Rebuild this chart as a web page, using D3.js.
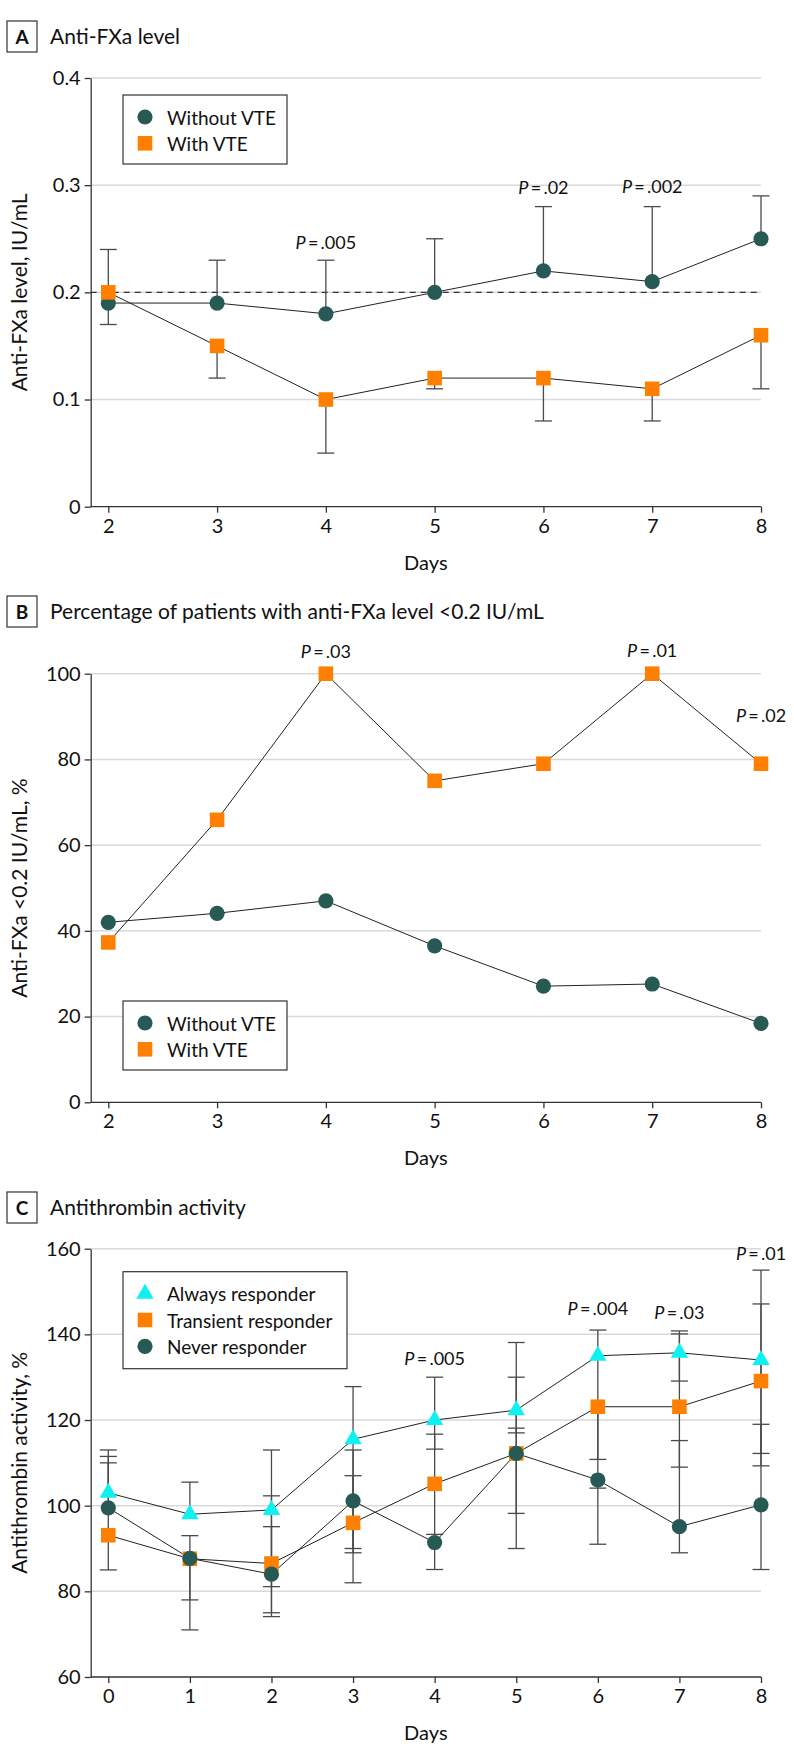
<!DOCTYPE html>
<html>
<head>
<meta charset="utf-8">
<script src="https://d3js.org/d3.v7.min.js"></script>
<style>
  body { margin: 0; background: #fff; }
  svg text { font-family: Lato, "Open Sans", sans-serif; fill: #111; }
</style>
</head>
<body>
<svg id="chart" width="794" height="1763"></svg>
<script>
// ---- panel A: anti-FXa level ----
const daysAB = [2, 3, 4, 5, 6, 7, 8];
const levelTicks = [0, 0.1, 0.2, 0.3, 0.4];
const levelWithout = [0.19, 0.19, 0.18, 0.20, 0.22, 0.21, 0.25];
const levelWithoutHi = [0.24, 0.23, 0.23, 0.25, 0.28, 0.28, 0.29];
const levelWith = [0.20, 0.15, 0.10, 0.12, 0.12, 0.11, 0.16];
const levelWithLo = [0.17, 0.12, 0.05, 0.11, 0.08, 0.08, 0.11];
const pLevel = [[4, 0.247, ".005"], [6, 0.298, ".02"], [7, 0.299, ".002"]];

// ---- panel B: % below 0.2 IU/mL ----
const pctTicks = [0, 20, 40, 60, 80, 100];
const pctWithout = [42, 44.1, 47, 36.5, 27.1, 27.6, 18.4];
const pctWith = [37.3, 65.9, 100, 75, 79, 100, 79];
const pPct = [[4, 105.4, ".03"], [7, 105.5, ".01"], [8, 90.4, ".02"]];

// ---- panel C: antithrombin activity ----
const daysC = [0, 1, 2, 3, 4, 5, 6, 7, 8];
const atTicks = [60, 80, 100, 120, 140, 160];
const atAlways = [103, 98, 99, 115.5, 120, 122.3, 135, 135.7, 134];
const atAlwaysHi = [113, 105.5, 113, 127.8, 130, 130, 141, 140.8, 147.1];
const atAlwaysLo = [null, null, 81.1, 90, 113.2, 117, 110.8, 129.1, 112.2];
const atTransient = [93.1, 87.6, 86.5, 96, 105.1, 112.2, 123.1, 123.1, 129.1];
const atTransientHi = [111.5, 93, 102.3, 113, 116.7, 138.1, null, 140.1, 155];
const atTransientLo = [85, 78, 75, 82, 93.3, 98.2, 104.1, 109, 109.3];
const atNever = [99.5, 87.7, 84, 101.1, 91.4, 112.2, 106, 95.1, 100.2];
const atNeverHi = [110, null, 95.1, 107, null, 118.1, null, 115.2, 119];
const atNeverLo = [null, 71, 74.1, 89, 85.1, 90, 91, 89, 85.1];
const pAt = [[4, 134.4, ".005"], [6, 146.1, ".004"], [7, 145.2, ".03"], [8, 159.1, ".01"]];

const TEAL = "#275a55", ORANGE = "#ff8000", CYAN = "#0ff0f0";
const svg = d3.select("#chart");
const axisX = 90.7, plotRight = 761, firstX = 108.3;

function marker(g, shape, color, x, y) {
  if (shape === "circle") {
    g.append("circle").attr("cx", x).attr("cy", y).attr("r", 7.6).attr("fill", color);
  } else if (shape === "square") {
    g.append("rect").attr("x", x - 7.3).attr("y", y - 7.3).attr("width", 14.6).attr("height", 14.6).attr("fill", color);
  } else {
    g.append("path").attr("d", d3.symbol(d3.symbolTriangle, 130)())
      .attr("transform", `translate(${x},${y})`).attr("fill", color);
  }
}

function drawPanel(cfg) {
  const g = svg.append("g");
  const x = d3.scaleLinear().domain(d3.extent(cfg.days)).range([firstX, plotRight]);
  const y = d3.scaleLinear().domain(d3.extent(cfg.ticks)).range([cfg.bottom, cfg.top]);

  // header
  g.append("rect").attr("x", 7).attr("y", cfg.headY).attr("width", 30).attr("height", 31)
    .attr("fill", "none").attr("stroke", "#333").attr("stroke-width", 1.2);
  g.append("text").attr("x", 22).attr("y", cfg.headY + 23).attr("text-anchor", "middle")
    .style("font-weight", 700).style("font-size", "19px").text(cfg.letter);
  g.append("text").attr("x", 50).attr("y", cfg.headY + 23).style("font-size", "21px").text(cfg.title);

  // grid
  g.selectAll(".grid").data(cfg.ticks.slice(1)).enter().append("line")
    .attr("x1", axisX).attr("x2", plotRight)
    .attr("y1", d => y(d)).attr("y2", d => y(d))
    .attr("stroke", "#d9d9d9").attr("stroke-width", 1.5);

  if (cfg.refLine !== undefined) {
    g.append("line").attr("x1", axisX).attr("x2", plotRight)
      .attr("y1", y(cfg.refLine)).attr("y2", y(cfg.refLine))
      .attr("stroke", "#333").attr("stroke-width", 1.1).attr("stroke-dasharray", "6,5");
  }

  // axes
  const ya = g.append("g").attr("transform", `translate(${axisX},0)`)
    .call(d3.axisLeft(y).tickValues(cfg.ticks).tickFormat(cfg.fmt).tickSize(6).tickSizeOuter(0).tickPadding(4));
  ya.select(".domain").attr("stroke", "#333").attr("stroke-width", 1.3);
  ya.selectAll(".tick line").attr("stroke", "#333").attr("stroke-width", 1.3);
  ya.selectAll(".tick text").style("font-size", "20px").style("font-family", "Lato").attr("fill", "#111");

  const xa = g.append("g").attr("transform", `translate(0,${cfg.bottom})`)
    .call(d3.axisBottom(x).tickValues(cfg.days).tickFormat(d3.format("d")).tickSize(6).tickPadding(6));
  xa.select(".domain").remove();
  xa.selectAll(".tick line").attr("stroke", "#333").attr("stroke-width", 1.3);
  xa.selectAll(".tick text").style("font-size", "20px").style("font-family", "Lato").attr("fill", "#111");
  g.append("line").attr("x1", axisX).attr("x2", plotRight).attr("y1", cfg.bottom).attr("y2", cfg.bottom)
    .attr("stroke", "#333").attr("stroke-width", 1.3);

  g.append("text").attr("x", (axisX + plotRight) / 2).attr("y", cfg.bottom + 63)
    .attr("text-anchor", "middle").style("font-size", "20px").text("Days");
  g.append("text").attr("transform", `translate(27,${(cfg.top + cfg.bottom) / 2}) rotate(-90)`)
    .attr("text-anchor", "middle").style("font-size", "21px").text(cfg.yLabel);

  // error bars
  cfg.series.forEach(s => {
    s.values.forEach((v, i) => {
      const lo = s.lo ? s.lo[i] : null, hi = s.hi ? s.hi[i] : null;
      if (lo === null && hi === null) return;
      const cx = x(cfg.days[i]);
      g.append("line").attr("x1", cx).attr("x2", cx)
        .attr("y1", y(lo === null ? v : lo)).attr("y2", y(hi === null ? v : hi))
        .attr("stroke", "#4a4a4a").attr("stroke-width", 1.3);
      [lo, hi].filter(e => e !== null).forEach(e => {
        g.append("line").attr("x1", cx - 8.5).attr("x2", cx + 8.5).attr("y1", y(e)).attr("y2", y(e))
          .attr("stroke", "#4a4a4a").attr("stroke-width", 1.3);
      });
    });
  });

  // lines
  const line = d3.line().x((d, i) => x(cfg.days[i])).y(d => y(d));
  cfg.series.forEach(s => {
    g.append("path").attr("d", line(s.values)).attr("fill", "none").attr("stroke", "#222").attr("stroke-width", 1);
  });
  // markers
  cfg.series.forEach(s => {
    s.values.forEach((v, i) => marker(g, s.shape, s.color, x(cfg.days[i]), y(v)));
  });

  // P labels
  cfg.pvals.forEach(p => {
    const t = g.append("text").attr("x", x(p[0])).attr("y", y(p[1]))
      .attr("text-anchor", "middle").attr("dominant-baseline", "central").style("font-size", "18px");
    t.append("tspan").style("font-style", "italic").text("P");
    t.append("tspan").text("\u2009=\u2009" + p[2]);
  });

  // legend
  const lg = cfg.legend;
  g.append("rect").attr("x", 123).attr("y", lg.y).attr("width", lg.w).attr("height", lg.h)
    .attr("fill", "#fff").attr("stroke", "#333").attr("stroke-width", 1.2);
  lg.items.forEach((it, i) => {
    const yy = lg.y + 22 + i * 26.3;
    marker(g, it.shape, it.color, 145, yy);
    g.append("text").attr("x", 167).attr("y", yy).attr("dominant-baseline", "central")
      .style("font-size", "19px").text(it.name);
  });
}

drawPanel({
  letter: "A", title: "Anti-FXa level", headY: 21,
  days: daysAB, ticks: levelTicks, top: 78, bottom: 506.7,
  fmt: d => d === 0 ? "0" : d3.format(".1f")(d), refLine: 0.2,
  yLabel: "Anti-FXa level, IU/mL",
  series: [
    { shape: "circle", color: TEAL, values: levelWithout, hi: levelWithoutHi, lo: null },
    { shape: "square", color: ORANGE, values: levelWith, hi: null, lo: levelWithLo }
  ],
  pvals: pLevel,
  legend: { y: 95, w: 164, h: 69, items: [
    { shape: "circle", color: TEAL, name: "Without VTE" },
    { shape: "square", color: ORANGE, name: "With VTE" }] }
});

drawPanel({
  letter: "B", title: "Percentage of patients with anti-FXa level <0.2 IU/mL", headY: 596,
  days: daysAB, ticks: pctTicks, top: 673.7, bottom: 1102.3,
  fmt: d3.format("d"),
  yLabel: "Anti-FXa <0.2 IU/mL, %",
  series: [
    { shape: "square", color: ORANGE, values: pctWith, hi: null, lo: null },
    { shape: "circle", color: TEAL, values: pctWithout, hi: null, lo: null }
  ],
  pvals: pPct,
  legend: { y: 1001, w: 164, h: 69, items: [
    { shape: "circle", color: TEAL, name: "Without VTE" },
    { shape: "square", color: ORANGE, name: "With VTE" }] }
});

drawPanel({
  letter: "C", title: "Antithrombin activity", headY: 1192,
  days: daysC, ticks: atTicks, top: 1248.7, bottom: 1677,
  fmt: d3.format("d"),
  yLabel: "Antithrombin activity, %",
  series: [
    { shape: "triangle", color: CYAN, values: atAlways, hi: atAlwaysHi, lo: atAlwaysLo },
    { shape: "square", color: ORANGE, values: atTransient, hi: atTransientHi, lo: atTransientLo },
    { shape: "circle", color: TEAL, values: atNever, hi: atNeverHi, lo: atNeverLo }
  ],
  pvals: pAt,
  legend: { y: 1271.7, w: 224, h: 97, items: [
    { shape: "triangle", color: CYAN, name: "Always responder" },
    { shape: "square", color: ORANGE, name: "Transient responder" },
    { shape: "circle", color: TEAL, name: "Never responder" }] }
});
</script>
</body>
</html>
